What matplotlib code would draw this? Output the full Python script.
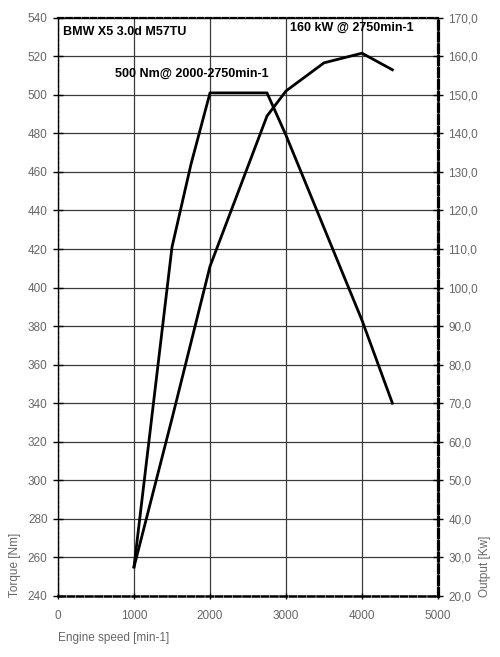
import matplotlib.pyplot as plt
from matplotlib.ticker import MultipleLocator, FuncFormatter

plt.rcParams['font.family'] = ['Liberation Sans', 'DejaVu Sans']

# Torque curve [Nm]
torque_rpm = [1000, 1500, 1750, 2000, 2750, 3000, 3500, 4000, 4400]
torque_nm = [255, 421, 464, 501, 501, 479, 431, 383, 340]

# Output curve [kW]
power_rpm = [1000, 1500, 2000, 2750, 3000, 3500, 4000, 4400]
power_kw = [27.5, 66.0, 105.5, 144.5, 151.0, 158.3, 160.8, 156.5]

fig = plt.figure(figsize=(5, 6.57), dpi=100)
ax = fig.add_axes([0.116, 0.093, 0.76, 0.88])
ax2 = ax.twinx()

ax.plot(torque_rpm, torque_nm, color='black', lw=2.0, zorder=3)
ax2.plot(power_rpm, power_kw, color='black', lw=2.0, zorder=3)

ax.set_xlim(0, 5000)
ax.set_ylim(240, 540)
ax2.set_ylim(20, 170)
ax.xaxis.set_major_locator(MultipleLocator(1000))
ax.yaxis.set_major_locator(MultipleLocator(20))
ax2.yaxis.set_major_locator(MultipleLocator(10))
ax2.yaxis.set_major_formatter(FuncFormatter(lambda v, p: f"{v:.1f}".replace('.', ',')))

ax.grid(True, color='#3a3a3a', lw=0.9)
ax.set_axisbelow(True)

grey = '#666666'
ax.tick_params(axis='both', direction='inout', length=7, width=1, colors='black',
               labelcolor=grey, labelsize=8.5, pad=4)
ax2.tick_params(axis='y', direction='inout', length=7, width=1, colors='black',
                labelcolor=grey, labelsize=8.5, pad=4)
ax.tick_params(axis='x', length=5, pad=8)

# dashed frame
for a in (ax, ax2):
    for side in ('top', 'bottom', 'left', 'right'):
        a.spines[side].set_linestyle((0, (2.5, 1.2)))
        a.spines[side].set_color('black')
ax.spines['top'].set_linewidth(1.6)
ax.spines['bottom'].set_linewidth(1.8)
ax.spines['left'].set_linewidth(1.0)
ax2.spines['right'].set_linewidth(2.3)
ax2.spines['top'].set_visible(False)
ax2.spines['bottom'].set_visible(False)
ax2.spines['left'].set_visible(False)

ax.text(0.012, 0.976, "BMW X5 3.0d M57TU", transform=ax.transAxes,
        fontsize=9, fontweight='bold', va='center', ha='left')
ax.text(0.15, 0.903, "500 Nm@ 2000-2750min-1", transform=ax.transAxes,
        fontsize=9, fontweight='bold', va='center', ha='left')
ax.text(0.61, 0.983, "160 kW @ 2750min-1", transform=ax.transAxes,
        fontsize=9, fontweight='bold', va='center', ha='left')

fig.text(0.116, 0.02, "Engine speed [min-1]", fontsize=8.5, color=grey, ha='left', va='bottom')
fig.text(0.03, 0.092, "Torque [Nm]", fontsize=8.5, color=grey, rotation=90, ha='center', va='bottom')
fig.text(0.97, 0.092, "Output [Kw]", fontsize=8.5, color=grey, rotation=90, ha='center', va='bottom')

fig.savefig("out.png", dpi=100, facecolor='white')
